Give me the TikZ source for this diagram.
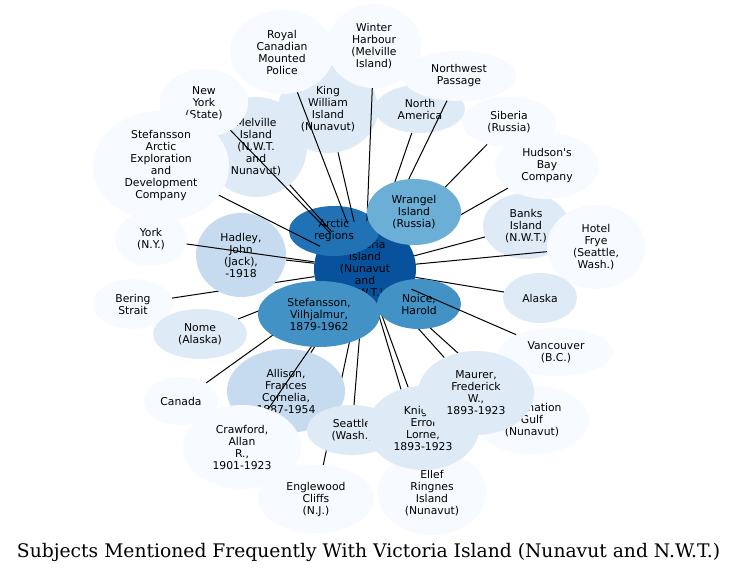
\documentclass[tikz,border=0pt]{standalone}
\usepackage{fontspec}
\usetikzlibrary{shapes.geometric}
\newfontfamily\nodefont{DejaVu Sans}
\newfontfamily\titlefont{DejaVu Serif}
\definecolor{cA}{HTML}{08519C}
\definecolor{cB}{HTML}{2171B5}
\definecolor{cC}{HTML}{4292C6}
\definecolor{cD}{HTML}{6BAED6}
\definecolor{cE}{HTML}{C6DBEF}
\definecolor{cF}{HTML}{DEEBF7}
\definecolor{cG}{HTML}{F7FBFF}
\pgfdeclarelayer{backdrop}
\pgfdeclarelayer{edgesbelow}
\pgfdeclarelayer{edgesmid}
\pgfdeclarelayer{nodestop}
\pgfdeclarelayer{edgestop}
\pgfsetlayers{backdrop,edgesbelow,main,edgesmid,nodestop,edgestop}
\tikzset{
  bub/.style={ellipse, inner sep=0pt, align=center, text=black,
    font=\nodefont\fontsize{10.8pt}{12pt}\selectfont},
  sz/.style 2 args={minimum width=#1pt, minimum height=#2pt},
  link/.style={draw=black, line width=1pt}
}
\begin{document}
\begin{tikzpicture}[x=1pt,y=-1pt]
\begin{pgfonlayer}{backdrop}
\fill[white] (0,0) rectangle (737,572);
\end{pgfonlayer}
\useasboundingbox (0,0) rectangle (737,572);
% main layer nodes
\node[bub, fill=cA, sz={102}{96}] (vic) at (365,269) {Victoria\\Island\\(Nunavut\\and\\N.W.T.)};
\node[bub, fill=cF, sz={102}{100}] (melville) at (256,147) {Melville\\Island\\(N.W.T.\\and\\Nunavut)};
\node[bub, fill=cF, sz={100}{88}] (kw) at (328,109) {King\\William\\Island\\(Nunavut)};
\node[bub, fill=cF, sz={90}{48}] (northam) at (420,109) {North\\America};
\node[bub, fill=cF, sz={86}{66}] (banks) at (526,226) {Banks\\Island\\(N.W.T.)};
\node[bub, fill=cG, sz={72}{54}] (york) at (151,239) {York\\(N.Y.)};
\node[bub, fill=cG, sz={88}{68}] (nystate) at (204,103) {New\\York\\(State)};
\node[bub, fill=cG, sz={136}{110}] (saedc) at (161,166) {Stefansson\\Arctic\\Exploration\\and\\Development\\Company};
\node[bub, fill=cG, sz={104}{84}] (rcmp) at (282,52) {Royal\\Canadian\\Mounted\\Police};
\node[bub, fill=cG, sz={94}{84}] (winter) at (374,46) {Winter\\Harbour\\(Melville\\Island)};
\node[bub, fill=cG, sz={114}{50}] (nwp) at (459,76) {Northwest\\Passage};
\node[bub, fill=cG, sz={94}{50}] (siberia) at (509,122) {Siberia\\(Russia)};
\node[bub, fill=cG, sz={104}{66}] (hudson) at (547,166) {Hudson's\\Bay\\Company};
\node[bub, fill=cG, sz={98}{84}] (hotel) at (596,247) {Hotel\\Frye\\(Seattle,\\Wash.)};
\node[bub, fill=cF, sz={74}{50}] (alaska) at (540,298) {Alaska};
\node[bub, fill=cG, sz={114}{48}] (vancouver) at (556,352) {Vancouver\\(B.C.)};
\node[bub, fill=cG, sz={114}{68}] (coronation) at (532,420) {Coronation\\Gulf\\(Nunavut)};
\node[bub, fill=cG, sz={108}{84}] (ellef) at (432,493) {Ellef\\Ringnes\\Island\\(Nunavut)};
\node[bub, fill=cE, sz={118}{84}] (allison) at (286,391) {Allison,\\Frances\\Cornelia,\\1887-1954};
\node[bub, fill=cG, sz={118}{84}] (crawford) at (242,447) {Crawford,\\Allan\\R.,\\1901-1923};
\node[bub, fill=cG, sz={74}{48}] (canada) at (181,401) {Canada};
\node[bub, fill=cG, sz={116}{68}] (englewood) at (316,499) {Englewood\\Cliffs\\(N.J.)};
\node[bub, fill=cF, sz={90}{50}] (seattle) at (352,430) {Seattle\\(Wash.)};
\node[bub, fill=cF, sz={112}{84}] (knight) at (423,428) {Knight,\\Errol\\Lorne,\\1893-1923};
\node[bub, fill=cF, sz={116}{84}] (maurer) at (476,393) {Maurer,\\Frederick\\W.,\\1893-1923};
\node[bub, fill=cG, sz={80}{50}] (bering) at (133,304) {Bering\\Strait};
\node[bub, fill=cF, sz={94}{50}] (nome) at (200,334) {Nome\\(Alaska)};
\node[bub, fill=cE, sz={90}{84}] (hadley) at (241,255) {Hadley,\\John\\(Jack),\\-1918};
\node[bub, fill=cB, sz={90}{50}] (arctic) at (334,231) {Arctic\\regions};
% top nodes
\begin{pgfonlayer}{nodestop}
\node[bub, fill=cD, sz={94}{66}] (wrangel) at (414,212) {Wrangel\\Island\\(Russia)};
\node[bub, fill=cC, sz={122}{66}] (stef) at (319,314) {Stefansson,\\Vilhjalmur,\\1879-1962};
\node[bub, fill=cC, sz={84}{50}] (noice) at (419,304) {Noice,\\Harold};
\end{pgfonlayer}
% edges below nodes
\begin{pgfonlayer}{edgesbelow}
\foreach \t in {arctic,wrangel,stef,noice,hadley,bering,nome,canada,englewood,seattle,ellef,knight,maurer,coronation,alaska,hudson,siberia,allison,banks,northam}
  \draw[link] (vic) -- (\t);
\end{pgfonlayer}
% edges over the main nodes
\begin{pgfonlayer}{edgesmid}
\foreach \t in {york,saedc,nystate,melville,rcmp,kw,winter,nwp,hotel,crawford}
  \draw[link] (vic) -- (\t);
\end{pgfonlayer}
\begin{pgfonlayer}{edgestop}
\draw[link] (vic) -- (vancouver);
\end{pgfonlayer}
\node[anchor=base, inner sep=0pt] (title) at (368.5,557)
  {\resizebox{703pt}{!}{\titlefont\fontsize{16pt}{18pt}\selectfont Subjects Mentioned Frequently With Victoria Island (Nunavut and N.W.T.)}};
\end{tikzpicture}
\end{document}
